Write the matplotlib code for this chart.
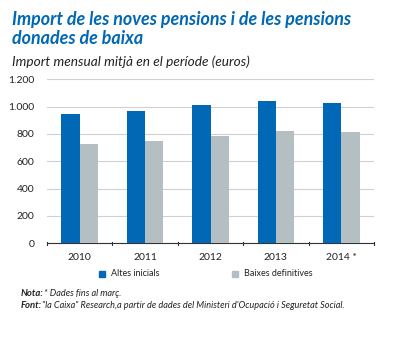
import numpy as np
import matplotlib.pyplot as plt
from matplotlib.patches import Rectangle

# Data
years = ['2010', '2011', '2012', '2013', '2014 *']
altes = [946, 968, 1010, 1041, 1029]
baixes = [729, 751, 787, 824, 817]

blue = '#0068b4'
gray = '#b4bfc4'

plt.rcParams['font.family'] = ['Lato', 'DejaVu Sans']

fig = plt.figure(figsize=(3.93, 3.38), dpi=100)
ax = fig.add_axes([47 / 393, 1 - 243.3 / 338, (374 - 47) / 393, 164 / 338])

x = np.arange(len(years))
w = 0.28
ax.bar(x - w / 2, altes, w, color=blue, zorder=3)
ax.bar(x + w / 2, baixes, w, color=gray, zorder=3)

ax.set_xlim(-0.5, len(years) - 0.5)
ax.set_ylim(0, 1200)
ax.set_yticks(range(0, 1201, 200))
ax.set_yticklabels(['0', '200', '400', '600', '800', '1.000', '1.200'], fontsize=7.5, color='#222222')
ax.yaxis.grid(True, color='#d0d0d0', linewidth=0.8, zorder=0)
ax.tick_params(axis='y', length=0, pad=9)

# category labels and boundary ticks
ax.set_xticks(x)
ax.set_xticklabels(years, fontsize=7.5, color='#222222')
ax.tick_params(axis='x', length=0, pad=7)
for b in np.arange(-0.5, len(years), 1.0):
    ax.plot([b, b], [-12, 12], color='#333333', lw=0.8, clip_on=False, zorder=4)

for s in ['top', 'right', 'left']:
    ax.spines[s].set_visible(False)
ax.spines['bottom'].set_color('#333333')
ax.spines['bottom'].set_linewidth(0.8)

# titles
fig.text(12 / 393, 1 - 20 / 338, 'Import de les noves pensions i de les pensions',
         fontsize=12.9, fontweight='bold', fontstyle='italic', color=blue, va='center')
fig.text(12 / 393, 1 - 38 / 338, 'donades de baixa',
         fontsize=12.9, fontweight='bold', fontstyle='italic', color=blue, va='center')
fig.text(12 / 393, 1 - 62 / 338, 'Import mensual mitjà en el període (euros)',
         fontsize=9.8, fontstyle='italic', color='#222222', va='center')

# legend
fig.patches.append(Rectangle((99 / 393, 1 - 277 / 338), 6 / 393, 6 / 338,
                             color=blue, transform=fig.transFigure))
fig.text(111 / 393, 1 - 274 / 338, 'Altes inicials', fontsize=6.5, color='#222222', va='center')
fig.patches.append(Rectangle((232 / 393, 1 - 277 / 338), 6 / 393, 6 / 338,
                             color=gray, transform=fig.transFigure))
fig.text(244 / 393, 1 - 274 / 338, 'Baixes definitives', fontsize=6.5, color='#222222', va='center')

# notes
fig.text(21 / 393, 1 - 294 / 338, 'Nota:', fontsize=6.8, fontweight='bold', fontstyle='italic',
         color='#222222', va='center')
fig.text(21 / 393, 1 - 306 / 338, 'Font:', fontsize=6.8, fontweight='bold', fontstyle='italic',
         color='#222222', va='center')
fig.text(44.5 / 393, 1 - 294 / 338, '* Dades fins al març.', fontsize=6.6, fontstyle='italic',
         color='#222222', va='center')
fig.text(42 / 393, 1 - 306 / 338,
         '"la Caixa" Research,a partir de dades del Ministeri d\'Ocupació i Seguretat Social.',
         fontsize=6.6, fontstyle='italic', color='#222222', va='center')

fig.savefig('out.png', dpi=100, facecolor='white')
